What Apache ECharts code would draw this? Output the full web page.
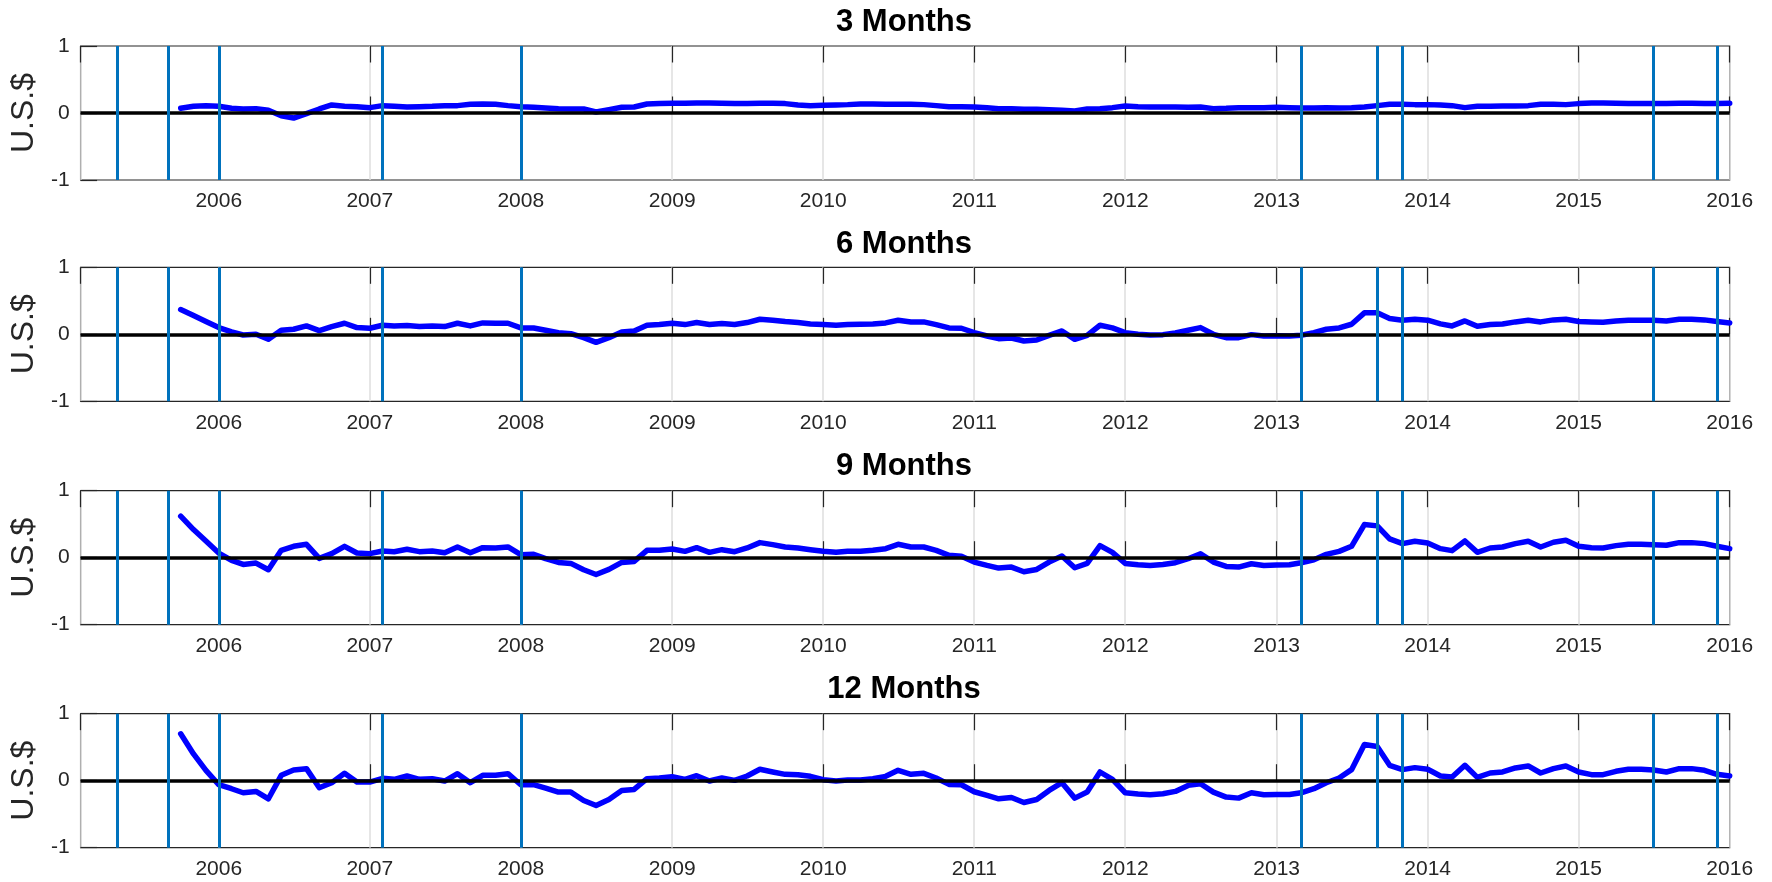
<!DOCTYPE html>
<html>
<head>
<meta charset="utf-8">
<title>Forward premium by horizon</title>
<script src="https://cdn.jsdelivr.net/npm/echarts@6/dist/echarts.min.js"></script>
<style>
  html, body { margin: 0; padding: 0; background: #ffffff; }
  #chart { width: 1772px; height: 882px; }
</style>
</head>
<body>
<div id="chart"></div>
<script>
// Monthly observations run from October 2005 through January 2016
const firstYear = 2005;
const firstMonth = 10;
const monthCount = 124;

// Panel titles (horizon)
const panelTitles = ['3 Months', '6 Months', '9 Months', '12 Months'];

// Dates of the policy events marked with vertical lines
const eventDates = [
  '2005-05-01', '2005-09-01', '2006-01-01', '2007-02-01', '2008-01-01',
  '2013-03-01', '2013-09-01', '2013-11-01', '2015-07-01', '2015-12-01'
];

// Axis range
const xStart = '2005-02-01';
const xEnd = '2016-01-01';
const yTicks = [-1, 0, 1];

// Values in U.S.$ (Oct 2005 .. Jan 2016)
const h3 = [
  0.07, 0.10, 0.11,
  0.10, 0.07, 0.06, 0.065, 0.04, -0.04, -0.075, -0.01, 0.06, 0.12, 0.10, 0.095,
  0.08, 0.11, 0.10, 0.09, 0.095, 0.10, 0.11, 0.11, 0.13, 0.135, 0.13, 0.11,
  0.095, 0.085, 0.075, 0.065, 0.06, 0.06, 0.015, 0.05, 0.085, 0.09, 0.135, 0.14,
  0.145, 0.145, 0.15, 0.15, 0.145, 0.14, 0.14, 0.145, 0.145, 0.14, 0.12, 0.11,
  0.115, 0.12, 0.125, 0.135, 0.135, 0.13, 0.13, 0.13, 0.125, 0.11, 0.095, 0.095,
  0.09, 0.08, 0.065, 0.065, 0.055, 0.055, 0.05, 0.04, 0.03, 0.06, 0.065, 0.08,
  0.105, 0.095, 0.09, 0.09, 0.09, 0.085, 0.09, 0.065, 0.07, 0.08, 0.08, 0.08,
  0.085, 0.08, 0.075, 0.075, 0.08, 0.075, 0.08, 0.09, 0.11, 0.13, 0.13, 0.125,
  0.125, 0.12, 0.11, 0.08, 0.10, 0.10, 0.105, 0.105, 0.11, 0.13, 0.13, 0.125,
  0.14, 0.15, 0.15, 0.145, 0.14, 0.14, 0.14, 0.14, 0.145, 0.145, 0.14, 0.14,
  0.145
];

const h6 = [
  0.37, 0.28, 0.19,
  0.10, 0.035, -0.01, 0.0, -0.075, 0.06, 0.075, 0.125, 0.055, 0.115, 0.165, 0.10,
  0.09, 0.135, 0.125, 0.13, 0.115, 0.125, 0.115, 0.165, 0.125, 0.17, 0.165, 0.165,
  0.095, 0.095, 0.06, 0.025, 0.01, -0.05, -0.12, -0.05, 0.035, 0.05, 0.135, 0.145,
  0.165, 0.145, 0.175, 0.145, 0.16, 0.145, 0.175, 0.225, 0.21, 0.19, 0.175, 0.155,
  0.145, 0.135, 0.145, 0.15, 0.155, 0.17, 0.21, 0.185, 0.185, 0.145, 0.095, 0.09,
  0.025, -0.025, -0.065, -0.055, -0.10, -0.085, -0.015, 0.05, -0.075, -0.015, 0.135, 0.095,
  0.025, 0.0, -0.01, -0.005, 0.02, 0.06, 0.10, 0.0, -0.05, -0.05, -0.005, -0.025,
  -0.02, -0.025, -0.015, 0.025, 0.075, 0.095, 0.15, 0.32, 0.32, 0.235, 0.21, 0.225,
  0.21, 0.155, 0.125, 0.20, 0.12, 0.145, 0.155, 0.185, 0.21, 0.185, 0.215, 0.225,
  0.19, 0.185, 0.18, 0.20, 0.21, 0.21, 0.21, 0.20, 0.225, 0.225, 0.215, 0.19,
  0.17
];

const h9 = [
  0.62, 0.42, 0.25,
  0.07, -0.04, -0.10, -0.08, -0.18, 0.11, 0.17, 0.20, -0.01, 0.06, 0.17, 0.07,
  0.06, 0.10, 0.09, 0.125, 0.09, 0.10, 0.075, 0.16, 0.075, 0.15, 0.145, 0.16,
  0.045, 0.05, -0.015, -0.07, -0.085, -0.18, -0.25, -0.175, -0.07, -0.055, 0.11, 0.11,
  0.13, 0.095, 0.15, 0.08, 0.12, 0.09, 0.145, 0.225, 0.195, 0.16, 0.145, 0.12,
  0.095, 0.08, 0.095, 0.095, 0.11, 0.135, 0.20, 0.16, 0.16, 0.11, 0.035, 0.02,
  -0.065, -0.115, -0.155, -0.14, -0.21, -0.175, -0.065, 0.025, -0.15, -0.085, 0.18, 0.08,
  -0.085, -0.105, -0.115, -0.10, -0.075, -0.015, 0.06, -0.065, -0.13, -0.14, -0.09, -0.115,
  -0.11, -0.105, -0.075, -0.03, 0.05, 0.095, 0.17, 0.495, 0.475, 0.28, 0.21, 0.245,
  0.22, 0.135, 0.105, 0.25, 0.08, 0.145, 0.16, 0.21, 0.245, 0.16, 0.23, 0.26,
  0.17, 0.15, 0.145, 0.18, 0.20, 0.20, 0.195, 0.185, 0.225, 0.225, 0.21, 0.17,
  0.135
];

const h12 = [
  0.70, 0.40, 0.155,
  -0.06, -0.12, -0.18, -0.16, -0.27, 0.08, 0.16, 0.18, -0.105, -0.03, 0.11, -0.02,
  -0.02, 0.035, 0.02, 0.07, 0.02, 0.03, -0.005, 0.105, -0.03, 0.08, 0.08, 0.105,
  -0.06, -0.06, -0.11, -0.17, -0.17, -0.295, -0.37, -0.28, -0.145, -0.13, 0.03, 0.04,
  0.06, 0.02, 0.075, -0.005, 0.04, 0.005, 0.07, 0.17, 0.13, 0.095, 0.09, 0.065,
  0.015, -0.005, 0.01, 0.01, 0.03, 0.065, 0.155, 0.095, 0.11, 0.04, -0.055, -0.06,
  -0.165, -0.22, -0.27, -0.25, -0.325, -0.28, -0.145, -0.03, -0.26, -0.17, 0.13, 0.02,
  -0.18, -0.20, -0.21, -0.195, -0.16, -0.07, -0.045, -0.17, -0.245, -0.26, -0.18, -0.21,
  -0.205, -0.205, -0.18, -0.12, -0.03, 0.04, 0.165, 0.54, 0.51, 0.23, 0.165, 0.195,
  0.17, 0.07, 0.055, 0.23, 0.05, 0.115, 0.13, 0.19, 0.22, 0.115, 0.18, 0.22,
  0.13, 0.09, 0.09, 0.14, 0.17, 0.17, 0.16, 0.13, 0.18, 0.18, 0.155, 0.095,
  0.07
];

const panelValues = [h3, h6, h9, h12];

// Month stamps for the x axis (first day of each month)
const months = [];
for (let i = 0; i < monthCount; i++) {
  const k = firstMonth - 1 + i;
  const y = firstYear + Math.floor(k / 12);
  const m = (k % 12) + 1;
  months.push(y + '-' + (m < 10 ? '0' + m : m) + '-01');
}

// Layout
const plotLeft = 78.4;
const plotRight = 42.3;
const plotHeight = 134;
const plotTops = [46, 267.3, 490.7, 713.7];
const titleTops = [7, 229, 451, 674];
const titleX = 904;

const FONT = '"Liberation Sans", Arial, Helvetica, sans-serif';
const INK = '#262626';
const YEAR = 365 * 24 * 3600 * 1000;
const tickLen = 16.5;

const grid = [], xAxis = [], yAxis = [], series = [], title = [];

panelValues.forEach((vals, i) => {
  grid.push({
    left: plotLeft, right: plotRight, top: plotTops[i], height: plotHeight,
    show: true, borderColor: INK, borderWidth: 1.2, backgroundColor: '#ffffff'
  });

  title.push({
    text: panelTitles[i], left: titleX, top: titleTops[i], textAlign: 'center', padding: 0,
    textStyle: { fontSize: 31, fontWeight: 'bold', color: '#000000', fontFamily: FONT }
  });

  // bottom axis with year labels and light vertical grid
  xAxis.push({
    type: 'time', gridIndex: i, position: 'bottom', min: xStart, max: xEnd,
    minInterval: YEAR, maxInterval: YEAR,
    axisLine: { show: false },
    axisTick: { show: true, inside: true, length: tickLen, lineStyle: { color: INK, width: 1.2 } },
    axisLabel: {
      show: true, formatter: '{yyyy}', showMinLabel: false, showMaxLabel: true,
      fontSize: 21, color: INK, margin: 11, fontFamily: FONT
    },
    splitLine: { show: true, lineStyle: { color: '#dedede', width: 1.5 } }
  });
  // top axis carries the mirrored tick marks
  xAxis.push({
    type: 'time', gridIndex: i, position: 'top', min: xStart, max: xEnd,
    minInterval: YEAR, maxInterval: YEAR,
    axisLine: { show: false },
    axisTick: { show: true, inside: true, length: tickLen, lineStyle: { color: INK, width: 1.2 } },
    axisLabel: { show: false },
    splitLine: { show: false }
  });

  yAxis.push({
    type: 'value', gridIndex: i, min: yTicks[0], max: yTicks[yTicks.length - 1], interval: 1,
    axisLine: { show: false },
    axisTick: { show: true, inside: true, length: tickLen, lineStyle: { color: INK, width: 1.2 } },
    axisLabel: { fontSize: 21, color: INK, margin: 11, fontFamily: FONT },
    splitLine: { show: false },
    name: 'U.S.$', nameLocation: 'middle', nameRotate: 90, nameGap: 34,
    nameTextStyle: { fontSize: 32, color: INK, fontFamily: FONT }
  });

  series.push({
    type: 'line', xAxisIndex: 2 * i, yAxisIndex: i,
    data: months.map((d, k) => [d, vals[k]]),
    showSymbol: false, symbol: 'none', smooth: false,
    lineStyle: { color: '#0000ff', width: 5.5, join: 'round', cap: 'round' },
    z: 2, silent: true
  });

  // zero reference and event markers, drawn above the series
  series.push({
    type: 'line', xAxisIndex: 2 * i, yAxisIndex: i, data: [], z: 4, silent: true,
    markLine: {
      silent: true, symbol: ['none', 'none'], label: { show: false }, animation: false,
      data: [{ yAxis: 0, lineStyle: { color: '#000000', width: 3.5, type: 'solid' } }]
        .concat(eventDates.map(d => ({ xAxis: d, lineStyle: { color: '#0072bd', width: 3, type: 'solid' } })))
    }
  });
});

const chart = echarts.init(document.getElementById('chart'), null, { renderer: 'canvas' });
chart.setOption({
  animation: false,
  backgroundColor: '#ffffff',
  title, grid, xAxis, yAxis, series
});
</script>
</body>
</html>
